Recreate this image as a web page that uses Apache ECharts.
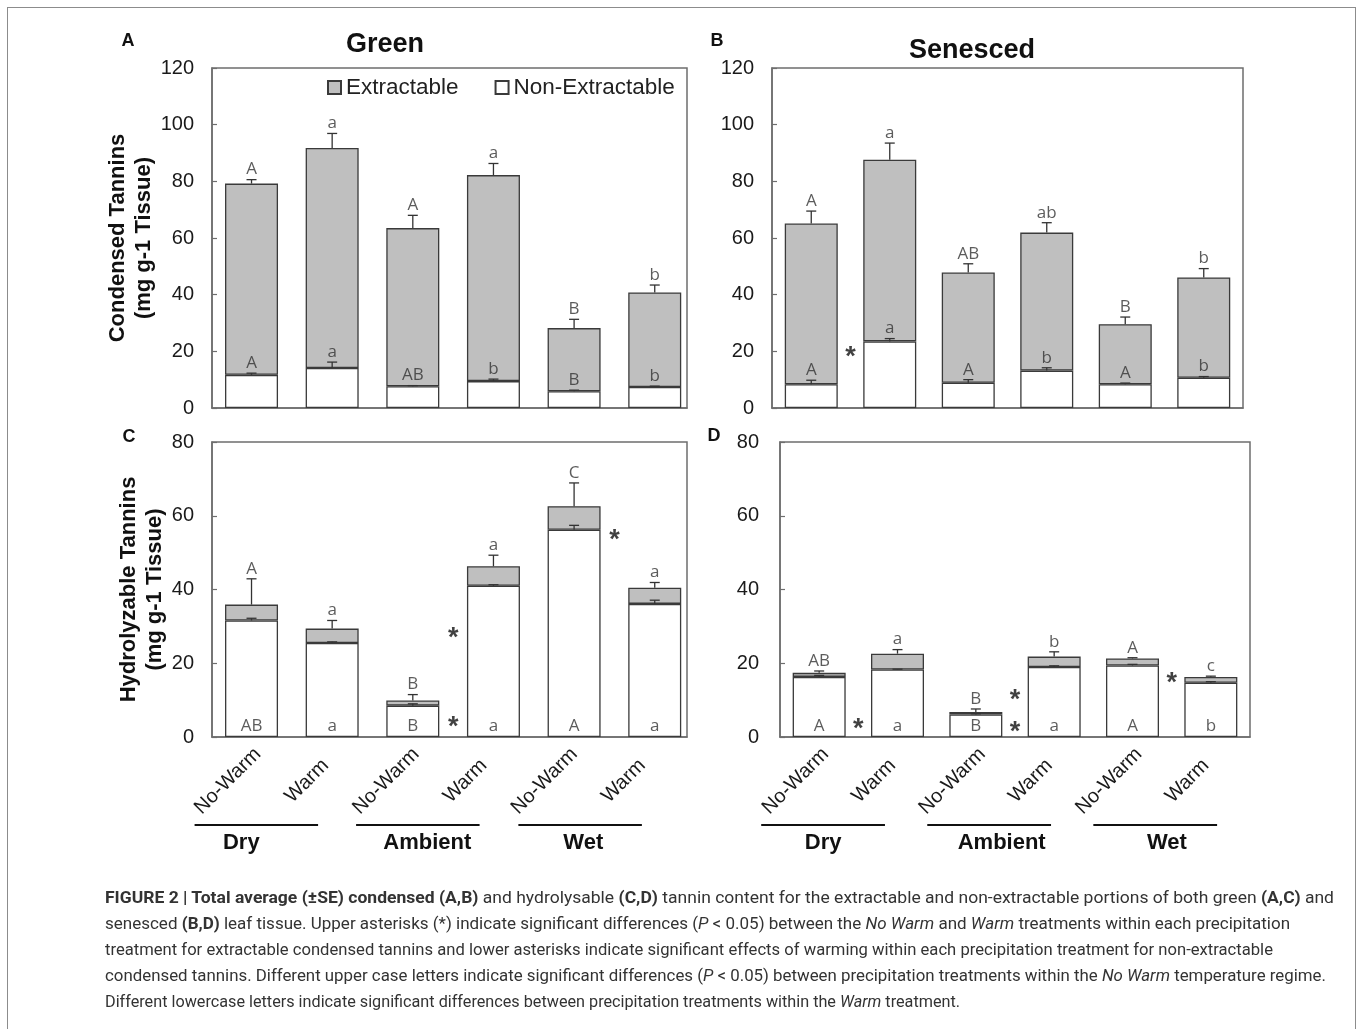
<!DOCTYPE html>
<html>
<head>
<meta charset="utf-8">
<script src="https://cdn.jsdelivr.net/npm/echarts@6/dist/echarts.min.js"></script>
<style>
html,body{margin:0;padding:0;background:#fff;}
#wrap{position:relative;width:1358px;height:1029px;overflow:hidden;background:#fff;}
#chart{position:absolute;left:0;top:0;width:1358px;height:1029px;}
#frame{position:absolute;left:7px;top:7px;width:1349px;height:1080px;border:1.5px solid #8c8c8c;box-sizing:border-box;pointer-events:none;}
#caption{position:absolute;left:105px;top:884px;font-family:Roboto,"Liberation Sans",sans-serif;font-size:17px;color:#333;line-height:26px;white-space:nowrap;}
#caption .ln{display:block;height:26px;}
#caption .ln span{display:inline-block;transform-origin:0 0;}
</style>
</head>
<body>
<div id="wrap">
  <div id="chart"></div>
  <div id="frame"></div>
  <div id="caption">
    <div class="ln"><span><b>FIGURE 2 | Total average (±SE) condensed (A,B)</b> and hydrolysable <b>(C,D)</b> tannin content for the extractable and non-extractable portions of both green <b>(A,C)</b> and</span></div>
    <div class="ln"><span>senesced <b>(B,D)</b> leaf tissue. Upper asterisks (*) indicate significant differences (<i>P</i> &lt; 0.05) between the <i>No Warm</i> and <i>Warm</i> treatments within each precipitation</span></div>
    <div class="ln"><span>treatment for extractable condensed tannins and lower asterisks indicate significant effects of warming within each precipitation treatment for non-extractable</span></div>
    <div class="ln"><span>condensed tannins. Different upper case letters indicate significant differences (<i>P</i> &lt; 0.05) between precipitation treatments within the <i>No Warm</i> temperature regime.</span></div>
    <div class="ln"><span>Different lowercase letters indicate significant differences between precipitation treatments within the <i>Warm</i> treatment.</span></div>
  </div>
</div>
<script>
// ---------------- data ----------------
const categories = ['No-Warm', 'Warm', 'No-Warm', 'Warm', 'No-Warm', 'Warm'];
const precipitation = ['Dry', 'Ambient', 'Wet'];
const condensedTicks = [0, 20, 40, 60, 80, 100, 120];
const hydrolyzableTicks = [0, 20, 40, 60, 80];

// A: green leaves, condensed tannins
const greenCondNonExt   = [11.7, 14.1, 7.7, 9.5, 5.9, 7.4];
const greenCondNonExtSE = [0.6, 2.1, 0.2, 0.7, 0.4, 0.3];
const greenCondExt      = [67.5, 77.7, 55.8, 72.7, 22.3, 33.4];
const greenCondTotalSE  = [1.4, 5.1, 4.5, 4.1, 3.1, 2.6];
const greenCondUpper    = ['A', 'a', 'A', 'a', 'B', 'b'];
const greenCondLower    = ['A', 'a', 'AB', 'b', 'B', 'b'];
const greenCondStarX    = [];
const greenCondStarY    = [];

// B: senesced leaves, condensed tannins
const senCondNonExt   = [8.4, 23.5, 8.9, 13.2, 8.4, 10.7];
const senCondNonExtSE = [1.4, 1.0, 1.1, 1.0, 0.4, 0.4];
const senCondExt      = [56.7, 64.1, 38.9, 48.7, 21.2, 35.4];
const senCondTotalSE  = [4.4, 5.9, 3.1, 3.5, 2.5, 3.1];
const senCondUpper    = ['A', 'a', 'AB', 'ab', 'B', 'b'];
const senCondLower    = ['A', 'a', 'A', 'b', 'A', 'b'];
const senCondStarX    = [0.5];
const senCondStarY    = [20.4];

// C: green leaves, hydrolyzable tannins
const greenHydNonExt   = [31.6, 25.5, 8.5, 41.0, 56.2, 36.1];
const greenHydNonExtSE = [0.6, 0.3, 0.5, 0.3, 1.2, 1.0];
const greenHydExt      = [4.3, 3.9, 1.4, 5.3, 6.4, 4.4];
const greenHydTotalSE  = [7.0, 2.2, 1.6, 3.0, 6.3, 1.4];
const greenHydUpper    = ['A', 'a', 'B', 'a', 'C', 'a'];
const greenHydLower    = ['AB', 'a', 'B', 'a', 'A', 'a'];
const greenHydStarX    = [2.5, 2.5, 4.5];
const greenHydStarY    = [4.5, 28.5, 55.2];

// D: senesced leaves, hydrolyzable tannins
const senHydNonExt   = [16.3, 18.3, 6.1, 19.0, 19.4, 14.7];
const senHydNonExtSE = [0.4, 0.1, 0.2, 0.3, 0.3, 0.3];
const senHydExt      = [1.1, 4.3, 0.7, 2.8, 1.9, 1.6];
const senHydTotalSE  = [0.5, 1.1, 0.8, 1.3, 0.2, 0.2];
const senHydUpper    = ['AB', 'a', 'B', 'b', 'A', 'c'];
const senHydLower    = ['A', 'a', 'B', 'a', 'A', 'b'];
const senHydStarX    = [0.5, 2.5, 2.5, 4.5];
const senHydStarY    = [3.8, 11.9, 3.2, 16.3];

// ---------------- layout / style ----------------
const FONT = '"Liberation Sans", Arial, sans-serif';
const LETTER_FONT = '"Open Sans", "Liberation Sans", sans-serif';
const AXIS_COLOR = '#6e6e6e';
const EDGE = '#3a3a3a';
const GRAY = '#bfbfbf';

const panels = [
  { grid: { left: 212, top: 68, width: 475, height: 340 }, xRange: [-0.49, 5.40], ticks: condensedTicks,
    nonExt: greenCondNonExt, nonExtSE: greenCondNonExtSE, ext: greenCondExt, totalSE: greenCondTotalSE,
    upper: greenCondUpper, lower: greenCondLower, lowerAtBase: false,
    starX: greenCondStarX, starY: greenCondStarY,
    yName: 'Condensed Tannins\n(mg g-1 Tissue)', xLabels: false, labelMargin: 18 },
  { grid: { left: 772, top: 68, width: 471, height: 340 }, xRange: [-0.5, 5.5], ticks: condensedTicks,
    nonExt: senCondNonExt, nonExtSE: senCondNonExtSE, ext: senCondExt, totalSE: senCondTotalSE,
    upper: senCondUpper, lower: senCondLower, lowerAtBase: false,
    starX: senCondStarX, starY: senCondStarY,
    yName: '', xLabels: false, labelMargin: 18 },
  { grid: { left: 212, top: 442, width: 475, height: 295 }, xRange: [-0.49, 5.40], ticks: hydrolyzableTicks,
    nonExt: greenHydNonExt, nonExtSE: greenHydNonExtSE, ext: greenHydExt, totalSE: greenHydTotalSE,
    upper: greenHydUpper, lower: greenHydLower, lowerAtBase: true,
    starX: greenHydStarX, starY: greenHydStarY,
    yName: 'Hydrolyzable Tannins\n(mg g-1 Tissue)', xLabels: true, labelMargin: 18,
    lineCenters: [0.06, 2.10, 4.15], lineHalf: 0.78, groupLabelPos: [-0.13, 2.22, 4.19] },
  { grid: { left: 780, top: 442, width: 470, height: 295 }, xRange: [-0.5, 5.5], ticks: hydrolyzableTicks,
    nonExt: senHydNonExt, nonExtSE: senHydNonExtSE, ext: senHydExt, totalSE: senHydTotalSE,
    upper: senHydUpper, lower: senHydLower, lowerAtBase: true,
    starX: senHydStarX, starY: senHydStarY,
    yName: '', xLabels: true, labelMargin: 21,
    lineCenters: [0.05, 2.17, 4.29], lineHalf: 0.79, groupLabelPos: [0.05, 2.33, 4.44] }
];

const LABEL_SHIFT = 0.3;   // rotated tick labels sit slightly left of each bar (in band units)

const option = {
  animation: false,
  backgroundColor: '#ffffff',
  grid: [], xAxis: [], yAxis: [], series: [],
  legend: {
    data: ['Extractable', 'Non-Extractable'],
    left: 322, top: 71, itemWidth: 13, itemHeight: 13, itemGap: 36, icon: 'rect',
    selectedMode: false,
    textStyle: { fontFamily: FONT, fontSize: 22.5, color: '#222' }
  },
  graphic: [
    { type: 'text', x: 385, y: 45, style: { text: 'Green', font: 'bold 27px ' + FONT, fill: '#111', align: 'center', verticalAlign: 'middle' } },
    { type: 'text', x: 972, y: 51, style: { text: 'Senesced', font: 'bold 27px ' + FONT, fill: '#111', align: 'center', verticalAlign: 'middle' } },
    { type: 'text', x: 128, y: 41, style: { text: 'A', font: 'bold 18px ' + FONT, fill: '#111', align: 'center', verticalAlign: 'middle' } },
    { type: 'text', x: 717, y: 41, style: { text: 'B', font: 'bold 18px ' + FONT, fill: '#111', align: 'center', verticalAlign: 'middle' } },
    { type: 'text', x: 129, y: 437, style: { text: 'C', font: 'bold 18px ' + FONT, fill: '#111', align: 'center', verticalAlign: 'middle' } },
    { type: 'text', x: 714, y: 436, style: { text: 'D', font: 'bold 18px ' + FONT, fill: '#111', align: 'center', verticalAlign: 'middle' } }
  ]
};

panels.forEach((p, k) => {
  const [xmin, xmax] = p.xRange;
  const band = v => xmin + ((v + 0.5) / 6) * (xmax - xmin);   // band units -> axis value
  const yMax = p.ticks[p.ticks.length - 1];
  const boxGrid = 2 * k, barGrid = 2 * k + 1;
  const pitch = p.grid.width / (xmax - xmin);

  // visible frame grid (axes + annotations)
  option.grid.push(Object.assign({ show: true, borderColor: AXIS_COLOR, borderWidth: 1.5,
    backgroundColor: 'transparent', containLabel: false, outerBoundsMode: 'none' }, p.grid));
  // invisible grid holding the category axis for the stacked bars
  option.grid.push({ show: false, containLabel: false, outerBoundsMode: 'none',
    left: p.grid.left + (-0.5 - xmin) * pitch, width: 6 * pitch, top: p.grid.top, height: p.grid.height });

  option.xAxis.push({
    type: 'value', gridIndex: boxGrid, min: xmin, max: xmax, position: 'bottom',
    splitLine: { show: false },
    axisLine: { show: true, onZero: false, lineStyle: { color: AXIS_COLOR, width: 1.5 } },
    axisTick: { show: false },
    axisLabel: p.xLabels ? {
      show: true,
      customValues: categories.map((c, i) => band(i - LABEL_SHIFT)),
      formatter: v => categories[Math.round(((v - xmin) / (xmax - xmin)) * 6 - 0.5 + LABEL_SHIFT)],
      rotate: 45, align: 'center', verticalAlign: 'middle', margin: 44,
      fontFamily: FONT, fontSize: 20, color: '#1a1a1a'
    } : { show: false }
  });
  option.xAxis.push({ type: 'category', gridIndex: barGrid, data: categories, show: false });

  option.yAxis.push({
    type: 'value', gridIndex: boxGrid, min: p.ticks[0], max: yMax, interval: p.ticks[1] - p.ticks[0],
    splitLine: { show: false },
    axisLine: { show: true, onZero: false, lineStyle: { color: AXIS_COLOR, width: 1.5 } },
    axisTick: { show: true, inside: true, length: 5, lineStyle: { color: AXIS_COLOR, width: 1.2 } },
    axisLabel: { fontFamily: FONT, fontSize: 20, color: '#1a1a1a', margin: p.labelMargin },
    name: p.yName, nameLocation: 'middle', nameRotate: 90, nameGap: 41,
    nameTextStyle: { fontFamily: FONT, fontSize: 22, fontWeight: 'bold', color: '#111', lineHeight: 26 }
  });
  option.yAxis.push({ type: 'value', gridIndex: barGrid, min: p.ticks[0], max: yMax, show: false, splitLine: { show: false } });

  const total = p.nonExt.map((v, i) => v + p.ext[i]);

  option.series.push({
    name: 'Non-Extractable', type: 'bar', stack: 'st' + k, xAxisIndex: barGrid, yAxisIndex: barGrid,
    barWidth: 53, silent: true, data: p.nonExt,
    itemStyle: { color: '#ffffff', borderColor: EDGE, borderWidth: 1.3 }
  });
  option.series.push({
    name: 'Extractable', type: 'bar', stack: 'st' + k, xAxisIndex: barGrid, yAxisIndex: barGrid,
    barWidth: 53, silent: true, data: p.ext,
    itemStyle: { color: GRAY, borderColor: EDGE, borderWidth: 1.3 }
  });

  // error bars (upward only)
  const errRows = [];
  p.nonExt.forEach((v, i) => errRows.push([i, v, v + p.nonExtSE[i]]));
  total.forEach((v, i) => errRows.push([i, v, v + p.totalSE[i]]));
  option.series.push({
    type: 'custom', xAxisIndex: boxGrid, yAxisIndex: boxGrid, silent: true, z: 5,
    encode: { x: 0, y: [1, 2] }, data: errRows,
    renderItem: (params, api) => {
      const x = api.value(0), lo = api.value(1), hi = api.value(2);
      const a = api.coord([x, lo]), b = api.coord([x, hi]);
      return { type: 'group', children: [
        { type: 'line', shape: { x1: a[0], y1: a[1], x2: b[0], y2: b[1] }, style: { stroke: '#333', lineWidth: 1.3 } },
        { type: 'line', shape: { x1: b[0] - 5, y1: b[1], x2: b[0] + 5, y2: b[1] }, style: { stroke: '#333', lineWidth: 1.3 } }
      ] };
    }
  });

  const letterLabel = { show: true, position: 'top', distance: 1, formatter: '{b}',
    fontFamily: LETTER_FONT, fontSize: 17, color: '#333' };
  option.series.push({
    type: 'scatter', xAxisIndex: boxGrid, yAxisIndex: boxGrid, silent: true, z: 6,
    symbolSize: 1, itemStyle: { color: 'rgba(0,0,0,0)' },
    data: p.upper.map((t, i) => ({ name: t, value: [i, total[i] + p.totalSE[i]] })),
    label: letterLabel
  });
  option.series.push({
    type: 'scatter', xAxisIndex: boxGrid, yAxisIndex: boxGrid, silent: true, z: 6,
    symbolSize: 1, itemStyle: { color: 'rgba(0,0,0,0)' },
    data: p.lower.map((t, i) => ({ name: t, value: [i, p.lowerAtBase ? 0 : p.nonExt[i] + p.nonExtSE[i]] })),
    label: Object.assign({}, letterLabel, { distance: p.lowerAtBase ? 2 : 1 })
  });
  if (p.starX.length) {
    option.series.push({
      type: 'scatter', xAxisIndex: boxGrid, yAxisIndex: boxGrid, silent: true, z: 6,
      symbolSize: 1, itemStyle: { color: 'rgba(0,0,0,0)' },
      data: p.starX.map((x, i) => ({ name: '*', value: [x, p.starY[i]] })),
      label: { show: true, position: 'inside', formatter: '{b}', offset: [0, 7],
        fontFamily: FONT, fontSize: 27, fontWeight: 'bold', color: '#111' }
    });
  }
  if (p.xLabels) {
    option.series.push({
      type: 'custom', xAxisIndex: boxGrid, yAxisIndex: boxGrid, silent: true, clip: false, z: 6,
      data: precipitation.map((g, i) => [i, 0]),
      renderItem: (params, api) => {
        const g = api.value(0);
        const c = p.lineCenters[g];
        const a = api.coord([band(c - p.lineHalf), 0]), b = api.coord([band(c + p.lineHalf), 0]);
        const m = api.coord([band(p.groupLabelPos[g]), 0]);
        return { type: 'group', children: [
          { type: 'line', shape: { x1: a[0], y1: a[1] + 88, x2: b[0], y2: b[1] + 88 }, style: { stroke: '#111', lineWidth: 2 } },
          { type: 'text', x: m[0], y: m[1] + 106, style: { text: precipitation[g], font: 'bold 22px ' + FONT, fill: '#111', align: 'center', verticalAlign: 'middle' } }
        ] };
      }
    });
  }
});

const chart = echarts.init(document.getElementById('chart'), null, { renderer: 'canvas' });
chart.setOption(option);

// fit each caption line to the width it has in the reference
const captionLineEnds = [1334, 1290, 1273, 1326, 960];
document.querySelectorAll('#caption .ln span').forEach((s, i) => {
  const w = s.getBoundingClientRect().width;
  s.style.transform = 'scaleX(' + ((captionLineEnds[i] - 105) / w).toFixed(4) + ')';
});
</script>
</body>
</html>
